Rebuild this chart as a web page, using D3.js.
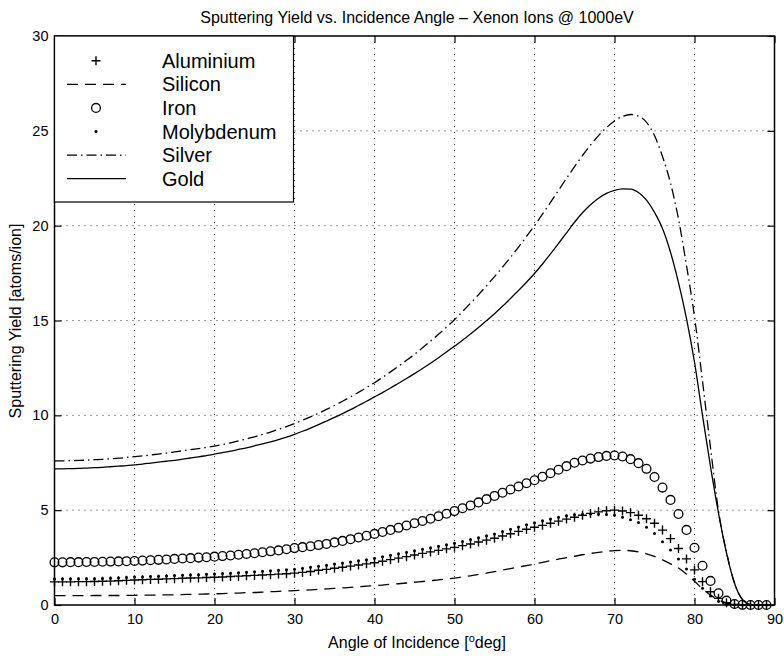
<!DOCTYPE html>
<html>
<head>
<meta charset="utf-8">
<script src="https://cdn.jsdelivr.net/npm/d3@7"></script>
<style>
  body { margin: 0; background: #fff; }
  svg { display: block; }
  text { font-family: "Liberation Sans", Arial, Helvetica, sans-serif; fill: #000; }
</style>
</head>
<body>
<svg id="chart" width="784" height="658"></svg>
<script>
// Sputtering yield (atoms/ion) of Xe+ at 1000 eV, sampled every degree of incidence
const angles = [
  0,1,2,3,4,5,6,7,8,9,10,11,12,13,14,15,16,17,18,19,20,21,22,23,24,25,26,27,28,29,
  30,31,32,33,34,35,36,37,38,39,40,41,42,43,44,45,46,47,48,49,50,51,52,53,54,55,56,57,58,59,
  60,61,62,63,64,65,66,67,68,69,70,71,72,73,74,75,76,77,78,79,80,81,82,83,84,85,86,87,88,89
];

const aluminium = [
  1.22,1.22,1.22,1.23,1.23,1.24,1.25,1.26,1.28,1.30,1.32,
  1.33,1.35,1.36,1.38,1.39,1.41,1.42,1.43,1.45,1.46,
  1.48,1.50,1.52,1.54,1.56,1.58,1.60,1.63,1.65,1.68,
  1.72,1.77,1.83,1.88,1.94,1.99,2.05,2.11,2.17,2.23,
  2.31,2.39,2.47,2.55,2.64,2.72,2.80,2.88,2.96,3.04,
  3.13,3.22,3.32,3.42,3.52,3.64,3.76,3.88,3.99,4.10,
  4.20,4.31,4.42,4.53,4.63,4.73,4.83,4.91,4.97,5.00,
  4.96,4.87,4.73,4.55,4.31,3.95,3.50,2.98,2.43,1.85,
  1.23,0.70,0.35,0.12,0.03,0,0,0,0
];

const silicon = [
  0.49,0.49,0.49,0.49,0.49,0.50,0.50,0.50,0.50,0.51,0.51,
  0.52,0.52,0.53,0.53,0.54,0.55,0.56,0.57,0.58,0.59,
  0.60,0.62,0.63,0.65,0.66,0.68,0.70,0.72,0.74,0.76,
  0.78,0.80,0.83,0.85,0.88,0.90,0.93,0.96,0.99,1.02,
  1.05,1.09,1.12,1.16,1.20,1.24,1.28,1.33,1.37,1.42,
  1.48,1.54,1.61,1.68,1.76,1.84,1.92,2.00,2.08,2.16,
  2.25,2.34,2.42,2.50,2.57,2.65,2.72,2.78,2.83,2.87,
  2.88,2.86,2.80,2.70,2.56,2.38,2.17,1.95,1.62,1.25,
  0.85,0.52,0.27,0.11,0.03,0,0,0,0
];

const iron = [
  2.25,2.25,2.26,2.26,2.27,2.27,2.28,2.29,2.30,2.31,2.32,
  2.34,2.36,2.38,2.40,2.43,2.45,2.47,2.50,2.52,2.55,
  2.58,2.61,2.65,2.69,2.73,2.78,2.83,2.88,2.94,3.00,
  3.05,3.10,3.16,3.22,3.30,3.38,3.47,3.56,3.65,3.75,
  3.85,3.96,4.07,4.19,4.31,4.43,4.55,4.68,4.81,4.95,
  5.10,5.25,5.41,5.58,5.75,5.92,6.09,6.25,6.42,6.58,
  6.76,6.95,7.13,7.32,7.50,7.62,7.72,7.80,7.86,7.88,
  7.83,7.69,7.48,7.18,6.75,6.19,5.54,4.80,3.96,3.02,
  2.07,1.27,0.62,0.23,0.05,0.01,0,0,0
];

const molybdenum = [
  1.37,1.37,1.37,1.38,1.38,1.39,1.40,1.41,1.43,1.45,1.47,
  1.48,1.50,1.51,1.53,1.55,1.57,1.58,1.60,1.62,1.64,
  1.66,1.68,1.70,1.73,1.75,1.78,1.80,1.83,1.86,1.89,
  1.94,1.99,2.04,2.10,2.16,2.21,2.27,2.33,2.39,2.46,
  2.54,2.62,2.70,2.78,2.86,2.94,3.02,3.10,3.18,3.26,
  3.35,3.45,3.55,3.65,3.75,3.87,3.99,4.11,4.23,4.34,
  4.44,4.54,4.63,4.70,4.76,4.79,4.80,4.79,4.77,4.73,
  4.63,4.50,4.35,4.10,3.77,3.34,2.90,2.42,1.90,1.36,
  0.88,0.48,0.20,0.06,0.01,0,0,0,0
];

const silver = [
  7.60,7.60,7.61,7.62,7.64,7.66,7.68,7.71,7.74,7.78,7.82,
  7.86,7.91,7.96,8.01,8.07,8.13,8.19,8.25,8.31,8.38,
  8.46,8.55,8.65,8.76,8.87,8.99,9.12,9.26,9.41,9.57,
  9.74,9.92,10.11,10.31,10.52,10.74,10.97,11.21,11.46,11.72,
  12.00,12.29,12.59,12.90,13.22,13.56,13.91,14.27,14.65,15.04,
  15.47,15.91,16.36,16.83,17.31,17.81,18.33,18.87,19.43,20.01,
  20.61,21.23,21.86,22.49,23.11,23.70,24.25,24.75,25.17,25.52,
  25.76,25.86,25.78,25.45,24.75,23.65,22.25,20.35,17.90,15.20,
  11.80,8.30,4.95,2.78,1.16,0.28,0.03,0,0
];

const gold = [
  7.18,7.18,7.19,7.20,7.22,7.24,7.26,7.29,7.32,7.35,7.39,
  7.43,7.48,7.53,7.58,7.63,7.69,7.75,7.81,7.88,7.95,
  8.03,8.11,8.20,8.29,8.39,8.49,8.60,8.72,8.85,9.00,
  9.16,9.33,9.51,9.70,9.89,10.09,10.30,10.52,10.74,10.97,
  11.20,11.44,11.69,11.94,12.20,12.47,12.75,13.04,13.34,13.65,
  13.96,14.29,14.63,14.99,15.36,15.75,16.16,16.58,17.02,17.48,
  17.98,18.51,19.06,19.62,20.18,20.68,21.10,21.45,21.70,21.86,
  21.94,21.93,21.75,21.35,20.70,19.85,18.60,17.00,15.10,12.80,
  10.00,7.30,4.85,2.75,1.15,0.28,0.03,0,0
];

const xTicks = [0, 10, 20, 30, 40, 50, 60, 70, 80, 90];
const yTicks = [0, 5, 10, 15, 20, 25, 30];
const legendNames = ["Aluminium", "Silicon", "Iron", "Molybdenum", "Silver", "Gold"];
const titleText = "Sputtering Yield vs. Incidence Angle \u2013 Xenon Ions @ 1000eV";
const yLabelText = "Sputtering Yield [atoms/ion]";

const svg = d3.select("#chart");
const plotL = 54.5, plotR = 774.5, plotT = 36, plotB = 605;

const x = d3.scaleLinear().domain([0, 90]).range([plotL, plotR]);
const y = d3.scaleLinear().domain([0, 30]).range([plotB, plotT]);

const pts = vals => angles.map((a, i) => ({ a, v: vals[i] }));

// dotted grid
const grid = svg.append("g").attr("stroke", "#333").attr("stroke-width", 1)
  .attr("stroke-dasharray", "1,5");
grid.selectAll(".gx").data(xTicks.slice(1, -1)).join("line")
  .attr("x1", d => x(d)).attr("x2", d => x(d)).attr("y1", plotT).attr("y2", plotB);
grid.selectAll(".gy").data(yTicks.slice(1, -1)).join("line")
  .attr("y1", d => y(d)).attr("y2", d => y(d)).attr("x1", plotL).attr("x2", plotR);

// styles for the six materials
const styles = {
  Aluminium:  { data: aluminium,  marker: "plus" },
  Silicon:    { data: silicon,    dash: "11,7" },
  Iron:       { data: iron,       marker: "circle" },
  Molybdenum: { data: molybdenum, marker: "dot" },
  Silver:     { data: silver,     dash: "10,4,1.5,4" },
  Gold:       { data: gold,       dash: null }
};

const line = d3.line().x(d => x(d.a)).y(d => y(d.v)).curve(d3.curveMonotoneX);
const plot = svg.append("g");

function drawMarker(g, kind, cx, cy) {
  if (kind === "plus") {
    g.append("path").attr("d", `M${cx - 4.5},${cy}H${cx + 4.5}M${cx},${cy - 4.5}V${cy + 4.5}`)
      .attr("stroke", "#000").attr("stroke-width", 1.4).attr("fill", "none");
  } else if (kind === "circle") {
    g.append("circle").attr("cx", cx).attr("cy", cy).attr("r", 4.4)
      .attr("fill", "none").attr("stroke", "#000").attr("stroke-width", 1.3);
  } else {
    g.append("circle").attr("cx", cx).attr("cy", cy).attr("r", 1.5).attr("fill", "#000");
  }
}

legendNames.forEach(name => {
  const s = styles[name];
  if (s.marker) {
    const g = plot.append("g");
    pts(s.data).forEach(p => drawMarker(g, s.marker, x(p.a), y(p.v)));
  } else {
    plot.append("path").datum(pts(s.data)).attr("d", line)
      .attr("fill", "none").attr("stroke", "#000").attr("stroke-width", 1.3)
      .attr("stroke-dasharray", s.dash);
  }
});

// axes with inward ticks on all four sides
const tickLen = 7;
const axB = svg.append("g").attr("transform", `translate(0,${plotB})`)
  .call(d3.axisBottom(x).tickValues(xTicks).tickSizeInner(-tickLen).tickSizeOuter(0).tickPadding(9));
const axL = svg.append("g").attr("transform", `translate(${plotL},0)`)
  .call(d3.axisLeft(y).tickValues(yTicks).tickSizeInner(-tickLen).tickSizeOuter(0).tickPadding(6));
const axT = svg.append("g").attr("transform", `translate(0,${plotT})`)
  .call(d3.axisTop(x).tickValues(xTicks).tickSizeInner(-tickLen).tickSizeOuter(0).tickFormat(""));
const axR = svg.append("g").attr("transform", `translate(${plotR},0)`)
  .call(d3.axisRight(y).tickValues(yTicks).tickSizeInner(-tickLen).tickSizeOuter(0).tickFormat(""));
[axB, axL, axT, axR].forEach(a => {
  a.select(".domain").remove();
  a.selectAll("line").attr("stroke", "#000").attr("stroke-width", 1.2);
  a.selectAll("text").attr("font-size", 14.5).attr("font-family", null).attr("fill", "#000");
});

svg.append("rect").attr("x", plotL).attr("y", plotT)
  .attr("width", plotR - plotL).attr("height", plotB - plotT)
  .attr("fill", "none").attr("stroke", "#000").attr("stroke-width", 1.5);

// title and axis labels
svg.append("text").attr("x", 417).attr("y", 23).attr("text-anchor", "middle")
  .attr("font-size", 16).text(titleText);

const xl = svg.append("text").attr("x", 417).attr("y", 648).attr("text-anchor", "middle")
  .attr("font-size", 16);
xl.append("tspan").text("Angle of Incidence [");
xl.append("tspan").attr("font-size", 11).attr("dy", -6).text("o");
xl.append("tspan").attr("dy", 6).text("deg]");

svg.append("text").attr("transform", "translate(21,321) rotate(-90)")
  .attr("text-anchor", "middle").attr("font-size", 16).text(yLabelText);

// legend
const lg = svg.append("g");
lg.append("rect").attr("x", plotL).attr("y", plotT).attr("width", 239).attr("height", 166)
  .attr("fill", "#fff").attr("stroke", "#000").attr("stroke-width", 1.2);
legendNames.forEach((name, i) => {
  const cy = 60.7 + i * 23.6;
  const s = styles[name];
  if (s.marker) {
    drawMarker(lg, s.marker, 96, cy);
  } else {
    lg.append("line").attr("x1", 67).attr("x2", 126).attr("y1", cy).attr("y2", cy)
      .attr("stroke", "#000").attr("stroke-width", 1.3).attr("stroke-dasharray", s.dash);
  }
  lg.append("text").attr("x", 162).attr("y", cy + 7).attr("font-size", 20).text(name);
});
</script>
</body>
</html>
